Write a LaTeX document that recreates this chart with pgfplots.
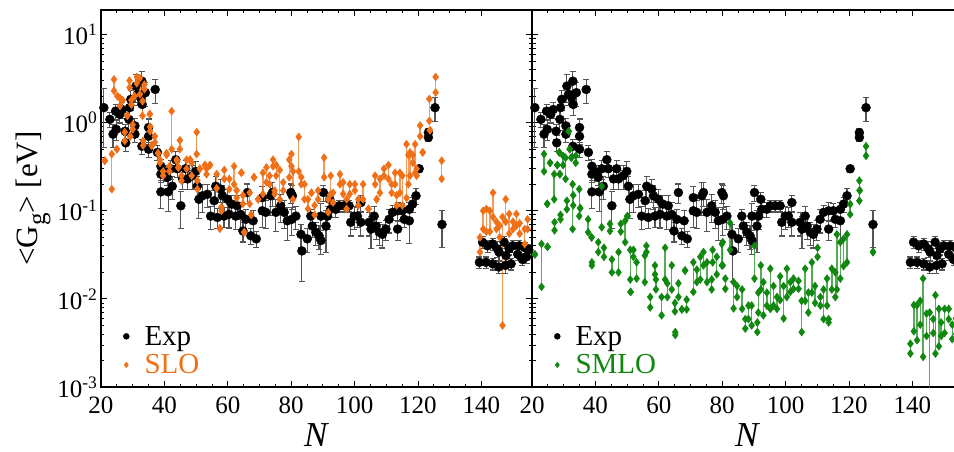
\documentclass[border=0pt]{standalone}
\usepackage{fontspec}
\setmainfont{Liberation Serif}
\newfontfamily\timesfont{Liberation Serif}
\usepackage{pgfplots}
\usepackage{pgfplotstable}
\pgfplotsset{compat=1.18}

\definecolor{sloorange}{RGB}{240,112,24}
\definecolor{smlogreen}{RGB}{16,136,16}
\definecolor{errgray}{RGB}{85,85,85}

% measured average radiative widths: N, <G_g> [eV], relative uncertainty
\pgfplotstableread{
N G e
20.9 1.48 0.65
22.8 1.09 0.2
23.8 0.74 0.3
24.6 1.35 0.2
24.8 0.84 0.25
25.9 1.24 0.2
26.7 1.41 0.2
27.6 0.80 0.2
27.8 0.59 0.2
28.8 1.09 0.25
29.0 1.48 0.2
29.4 1.84 0.25
30.7 0.92 0.2
30.7 0.74 0.2
31.0 2.60 0.35
31.5 2.09 0.25
32.5 1.92 0.2
32.9 2.96 0.3
33.0 1.61 0.25
32.9 0.54 0.2
34.0 2.19 0.3
35.0 0.88 0.25
35.0 0.70 0.2
35.0 0.50 0.2
37.1 2.38 0.3
37.8 0.46 0.2
38.9 0.32 0.2
38.9 0.26 0.2
38.9 0.164 0.35
40.4 0.27 0.2
40.9 0.24 0.2
41.2 0.164 0.4
42.0 0.30 0.25
42.5 0.19 0.3
43.6 0.38 0.25
44.1 0.30 0.2
45.2 0.114 0.45
45.7 0.23 0.25
46.7 0.30 0.25
47.3 0.23 0.25
48.8 0.25 0.3
49.9 0.28 0.3
50.4 0.19 0.3
50.9 0.135 0.4
52.0 0.148 0.35
53.6 0.154 0.3
54.6 0.087 0.3
55.7 0.13 0.3
56.2 0.19 0.3
56.7 0.084 0.25
57.8 0.176 0.3
58.3 0.148 0.3
58.8 0.087 0.25
59.9 0.135 0.3
60.4 0.091 0.3
61.3 0.119 0.25
62.5 0.087 0.3
63.0 0.114 0.3
64.1 0.091 0.35
64.8 0.059 0.25
65.7 0.080 0.3
66.2 0.161 0.25
67.3 0.052 0.2
68.0 0.077 0.3
69.0 0.048 0.2
70.9 0.141 0.35
70.9 0.100 0.35
72.0 0.096 0.35
73.6 0.148 0.4
74.1 0.161 0.3
75.2 0.096 0.4
76.7 0.114 0.35
77.8 0.096 0.35
78.8 0.077 0.4
79.9 0.161 0.25
80.4 0.148 0.3
80.2 0.080 0.35
81.5 0.087 0.3
83.1 0.054 0.3
83.4 0.035 0.55
85.1 0.048 0.3
86.2 0.087 0.2
86.7 0.067 0.25
87.8 0.057 0.3
88.8 0.052 0.3
89.4 0.046 0.3
89.4 0.087 0.4
90.2 0.161 0.2
91.0 0.067 0.5
91.5 0.087 0.3
92.2 0.135 0.2
92.5 0.104 0.2
94.1 0.104 0.2
95.2 0.114 0.15
96.7 0.114 0.15
98.3 0.114 0.15
98.8 0.074 0.3
99.9 0.087 0.3
100.9 0.087 0.25
102.0 0.124 0.2
102.0 0.074 0.3
104.6 0.074 0.3
105.2 0.062 0.4
106.2 0.087 0.3
106.8 0.067 0.3
107.8 0.057 0.3
108.8 0.054 0.3
109.9 0.062 0.25
110.9 0.080 0.3
112.0 0.096 0.2
113.6 0.062 0.25
113.6 0.100 0.25
115.1 0.100 0.2
115.7 0.080 0.2
117.3 0.077 0.45
117.3 0.104 0.2
118.3 0.119 0.2
119.4 0.148 0.2
120.4 0.30 0.1
123.3 0.77 0.1
123.3 0.68 0.1
125.4 1.48 0.3
127.6 0.070 0.45
139.4 0.026 0.15
140.4 0.044 0.15
141.5 0.026 0.15
142.0 0.040 0.15
143.6 0.025 0.15
143.6 0.042 0.15
145.1 0.037 0.2
145.6 0.034 0.2
145.5 0.023 0.15
147.2 0.044 0.15
147.6 0.024 0.2
147.8 0.031 0.2
148.8 0.037 0.15
149.4 0.025 0.15
149.9 0.040 0.15
151.5 0.032 0.15
152.0 0.040 0.15
153.0 0.028 0.15
153.8 0.038 0.15
154.3 0.030 0.15
155.0 0.036 0.15
}\expdata

% SLO model: for each N the lower and upper value of the spread
\pgfplotstableread{
N lo hi
21.2 0.37 0.37
23.4 0.176 0.44
24.1 2.3 3.1
25.0 0.50 0.50
25.2 2.0 2.0
26.0 1.55 1.9
26.8 1.8 1.8
27.5 0.62 0.78
28.3 1.2 1.2
29.0 2.5 3.0
29.2 0.7 0.7
29.6 1.6 1.8
30.0 0.84 0.95
30.6 2.0 2.0
31.3 2.8 3.3
32.3 2.1 3.2
33.1 1.2 1.75
33.3 0.55 0.62
33.7 2.4 2.7
35.4 1.25 1.25
35.5 0.8 0.9
36.0 0.55 0.55
37.0 0.6 0.7
38.0 0.45 0.45
38.6 0.35 0.38
39.6 0.25 0.28
40.7 0.43 0.45
41.6 0.28 0.32
42.3 0.50 1.35
43.9 0.37 0.38
44.4 0.31 0.31
44.9 0.50 0.63
45.4 0.22 0.25
47.0 0.30 0.38
48.1 0.38 0.38
48.6 0.25 0.35
50.2 0.44 0.78
50.4 0.176 0.22
51.2 0.30 0.30
52.8 0.33 0.33
53.3 0.26 0.30
54.4 0.33 0.33
56.5 0.18 0.26
57.5 0.063 0.063
58.0 0.10 0.11
58.9 0.23 0.29
60.5 0.176 0.23
62.0 0.20 0.32
62.8 0.14 0.17
64.3 0.27 0.27
64.8 0.12 0.15
65.2 0.057 0.057
66.9 0.12 0.16
67.4 0.09 0.09
68.3 0.24 0.24
69.6 0.135 0.135
71.1 0.155 0.27
72.2 0.21 0.31
73.2 0.20 0.25
74.3 0.32 0.38
74.8 0.155 0.17
75.3 0.25 0.33
76.4 0.135 0.29
77.5 0.17 0.21
79.4 0.24 0.38
80.1 0.32 0.44
80.6 0.135 0.28
82.4 0.28 0.69
83.2 0.20 0.24
84.2 0.135 0.20
85.3 0.105 0.135
86.4 0.16 0.16
87.4 0.09 0.115
88.5 0.135 0.17
90.4 0.24 0.40
91.7 0.096 0.135
92.5 0.155 0.25
93.2 0.124 0.16
95.4 0.20 0.26
96.4 0.155 0.21
97.5 0.105 0.135
98.5 0.155 0.20
100.1 0.17 0.20
101.2 0.115 0.135
102.7 0.135 0.20
104.4 0.105 0.105
106.5 0.20 0.25
107.0 0.135 0.135
108.0 0.16 0.23
109.3 0.25 0.30
110.7 0.23 0.33
111.7 0.16 0.20
112.8 0.20 0.27
113.3 0.115 0.15
114.3 0.16 0.27
115.1 0.115 0.25
116.4 0.14 0.57
117.0 0.20 0.43
117.5 0.25 0.46
118.4 0.35 0.43
119.1 0.27 0.57
119.6 0.25 0.30
120.7 0.70 0.93
121.5 0.46 0.46
123.6 1.05 1.86
123.8 0.82 0.82
125.6 2.2 3.3
127.5 0.23 0.37
139.6 0.034 0.05
140.6 0.062 0.10
141.6 0.058 0.105
142.7 0.058 0.10
143.7 0.085 0.16
144.8 0.062 0.075
145.8 0.05 0.068
146.7 0.005 0.085
147.7 0.075 0.135
148.8 0.055 0.092
150.0 0.062 0.075
151.1 0.068 0.092
152.1 0.055 0.072
153.7 0.042 0.062
154.6 0.062 0.08
}\slodata

% SMLO model: for each N the lower and upper value of the spread
\pgfplotstableread{
N lo hi
20.9 0.032 0.032
23.0 0.0137 0.042
23.8 0.28 0.44
24.8 0.12 0.12
24.9 0.039 0.039
25.7 0.35 0.35
27.0 0.135 0.26
27.1 0.06 0.074
28.0 0.33 0.33
28.6 0.46 0.46
28.8 0.26 0.26
29.0 0.08 0.09
29.8 0.33 0.42
30.6 0.23 0.40
31.0 0.104 0.13
31.6 0.80 0.80
31.9 0.50 0.50
32.4 0.40 0.40
32.8 0.062 0.20
33.0 0.115 0.15
33.8 0.35 0.42
34.9 0.087 0.176
35.2 0.107 0.107
37.7 0.057 0.08
38.8 0.05 0.05
38.9 0.024 0.026
40.9 0.034 0.044
42.0 0.065 0.19
42.7 0.03 0.038
44.6 0.059 0.071
45.2 0.020 0.028
47.3 0.020 0.034
48.0 0.058 0.071
49.4 0.044 0.077
50.1 0.087 0.087
51.0 0.0166 0.036
51.1 0.012 0.012
52.0 0.030 0.036
53.0 0.017 0.026
55.6 0.0155 0.031
56.1 0.034 0.04
57.3 0.008 0.0105
58.8 0.019 0.024
59.1 0.0128 0.0166
60.9 0.0065 0.0105
62.0 0.0166 0.038
62.7 0.0105 0.015
64.1 0.0128 0.024
65.1 0.0072 0.009
65.2 0.0039 0.0042
66.2 0.0105 0.015
67.3 0.0076 0.0076
68.3 0.021 0.021
68.8 0.0076 0.0098
70.9 0.012 0.026
72.0 0.0155 0.0215
73.1 0.0166 0.03
74.1 0.024 0.034
75.2 0.0155 0.026
76.7 0.0128 0.0166
77.0 0.026 0.036
78.3 0.019 0.03
79.9 0.024 0.042
80.2 0.024 0.044
81.0 0.013 0.017
82.5 0.036 0.073
83.6 0.0078 0.0155
84.7 0.0105 0.014
86.3 0.0077 0.0128
87.3 0.0046 0.0059
88.3 0.0059 0.0084
89.3 0.005 0.0084
90.2 0.017 0.04
91.1 0.0042 0.0054
91.4 0.007 0.0118
92.2 0.0128 0.024
93.0 0.0065 0.0155
94.1 0.0084 0.0118
95.2 0.0077 0.022
96.2 0.0084 0.014
97.3 0.0077 0.0105
98.3 0.0097 0.018
99.4 0.006 0.014
100.4 0.0105 0.022
101.5 0.012 0.0155
102.5 0.013 0.017
104.1 0.013 0.016
105.1 0.0042 0.0095
106.2 0.0095 0.022
107.2 0.007 0.0118
108.3 0.0118 0.026
109.3 0.009 0.014
110.1 0.03 0.038
111.0 0.0084 0.0105
112.0 0.0059 0.0128
113.1 0.0084 0.017
113.6 0.0054 0.0059
114.6 0.0128 0.022
115.7 0.0105 0.02
116.2 0.0128 0.054
117.3 0.017 0.044
118.3 0.0235 0.048
119.4 0.026 0.054
120.4 0.091 0.119
123.3 0.13 0.22
123.4 0.17 0.17
125.4 0.42 0.54
127.6 0.034 0.034
139.4 0.0024 0.0031
140.5 0.0043 0.0085
141.5 0.0034 0.0085
142.5 0.0051 0.0095
143.4 0.0022 0.017
144.5 0.0038 0.0068
145.5 0.0009 0.007
146.6 0.0041 0.0059
147.3 0.0024 0.011
148.4 0.0029 0.0077
149.1 0.0038 0.0054
150.2 0.0041 0.0077
151.5 0.0059 0.0077
152.6 0.0035 0.0051
153.8 0.004 0.006
}\smlodata

\pgfplotsset{
  every axis/.append style={
    scale only axis, width=431bp, height=377bp,
    xmin=20, xmax=156,
    xtick={20,40,...,140}, minor x tick num=3,
    xticklabels={20,40,60,80,100,120,140},
    tick align=inside,
    major tick length=6bp, minor tick length=3.5bp,
    every tick/.style={black, line width=0.8bp},
    axis line style={line width=1.2bp},
    tick label style={font=\timesfont\fontsize{25bp}{25bp}\selectfont},
    xticklabel style={yshift=-6bp},
    xlabel={\textit{N}},
    xlabel style={font=\timesfont\fontsize{35bp}{35bp}\selectfont, yshift=-3bp},
    legend style={draw=none, fill=none, font=\timesfont\fontsize{29bp}{30bp}\selectfont,
      anchor=south west, at={(axis description cs:0.03,0.02)},
      row sep=4bp},
    legend cell align=left,
    legend image code/.code={\draw[##1] plot coordinates {(9bp,0bp)}; \path (0bp,0bp) (25bp,0bp);},
  },
}

\begin{document}
\begin{tikzpicture}
\begin{axis}[
  ymode=log, ymin=1e-3, ymax=19,
  ytick={1e-3,1e-2,1e-1,1,10},
  yticklabels={10\textsuperscript{-3},10\textsuperscript{-2},10\textsuperscript{-1},10\textsuperscript{0},10\textsuperscript{1}},
  ylabel={{<}G\raisebox{-0.55ex}{\fontsize{25bp}{25bp}\selectfont g}{>} [eV]},
  ylabel style={font=\timesfont\fontsize{31bp}{31bp}\selectfont},
]
\addlegendimage{only marks, mark=*, mark size=3bp, black}
\addlegendentry{Exp}
\addlegendimage{only marks, mark=diamond*, mark size=2.8bp, sloorange}
\addlegendentry{\textcolor{sloorange}{SLO}}
\addplot[forget plot, only marks, mark=*, mark size=4.5bp, black,
  error bars/.cd, y dir=both, y explicit relative,
  error bar style={errgray, line width=1.1bp},
  error mark options={rotate=90, errgray, mark size=3bp, line width=1.1bp}]
  table[x=N, y=G, y error=e] {\expdata};
\addplot[forget plot, only marks, mark=diamond*, mark size=4bp, sloorange,
  error bars/.cd, y dir=plus, y explicit, error mark=none,
  error bar style={sloorange, line width=1.4bp, opacity=0.7}]
  table[x=N, y=lo, y error expr=\thisrow{hi}-\thisrow{lo}] {\slodata};
\addplot[forget plot, only marks, mark=diamond*, mark size=4bp, sloorange]
  table[x=N, y=hi] {\slodata};
\end{axis}
\begin{axis}[at={(431bp,0)},
  ymode=log, ymin=1e-3, ymax=19,
  ytick={1e-3,1e-2,1e-1,1,10},
  yticklabels={},
]
\addlegendimage{only marks, mark=*, mark size=3bp, black}
\addlegendentry{Exp}
\addlegendimage{only marks, mark=diamond*, mark size=2.8bp, smlogreen}
\addlegendentry{\textcolor{smlogreen}{SMLO}}
\addplot[forget plot, only marks, mark=*, mark size=4.5bp, black,
  error bars/.cd, y dir=both, y explicit relative,
  error bar style={errgray, line width=1.1bp},
  error mark options={rotate=90, errgray, mark size=3bp, line width=1.1bp}]
  table[x=N, y=G, y error=e] {\expdata};
\addplot[forget plot, only marks, mark=diamond*, mark size=4bp, smlogreen,
  error bars/.cd, y dir=plus, y explicit, error mark=none,
  error bar style={smlogreen, line width=1.4bp, opacity=0.7}]
  table[x=N, y=lo, y error expr=\thisrow{hi}-\thisrow{lo}] {\smlodata};
\addplot[forget plot, only marks, mark=diamond*, mark size=4bp, smlogreen]
  table[x=N, y=hi] {\smlodata};
\end{axis}
\pgfresetboundingbox
\useasboundingbox (-101bp,-65bp) rectangle (853bp,387bp);
\end{tikzpicture}
\end{document}
